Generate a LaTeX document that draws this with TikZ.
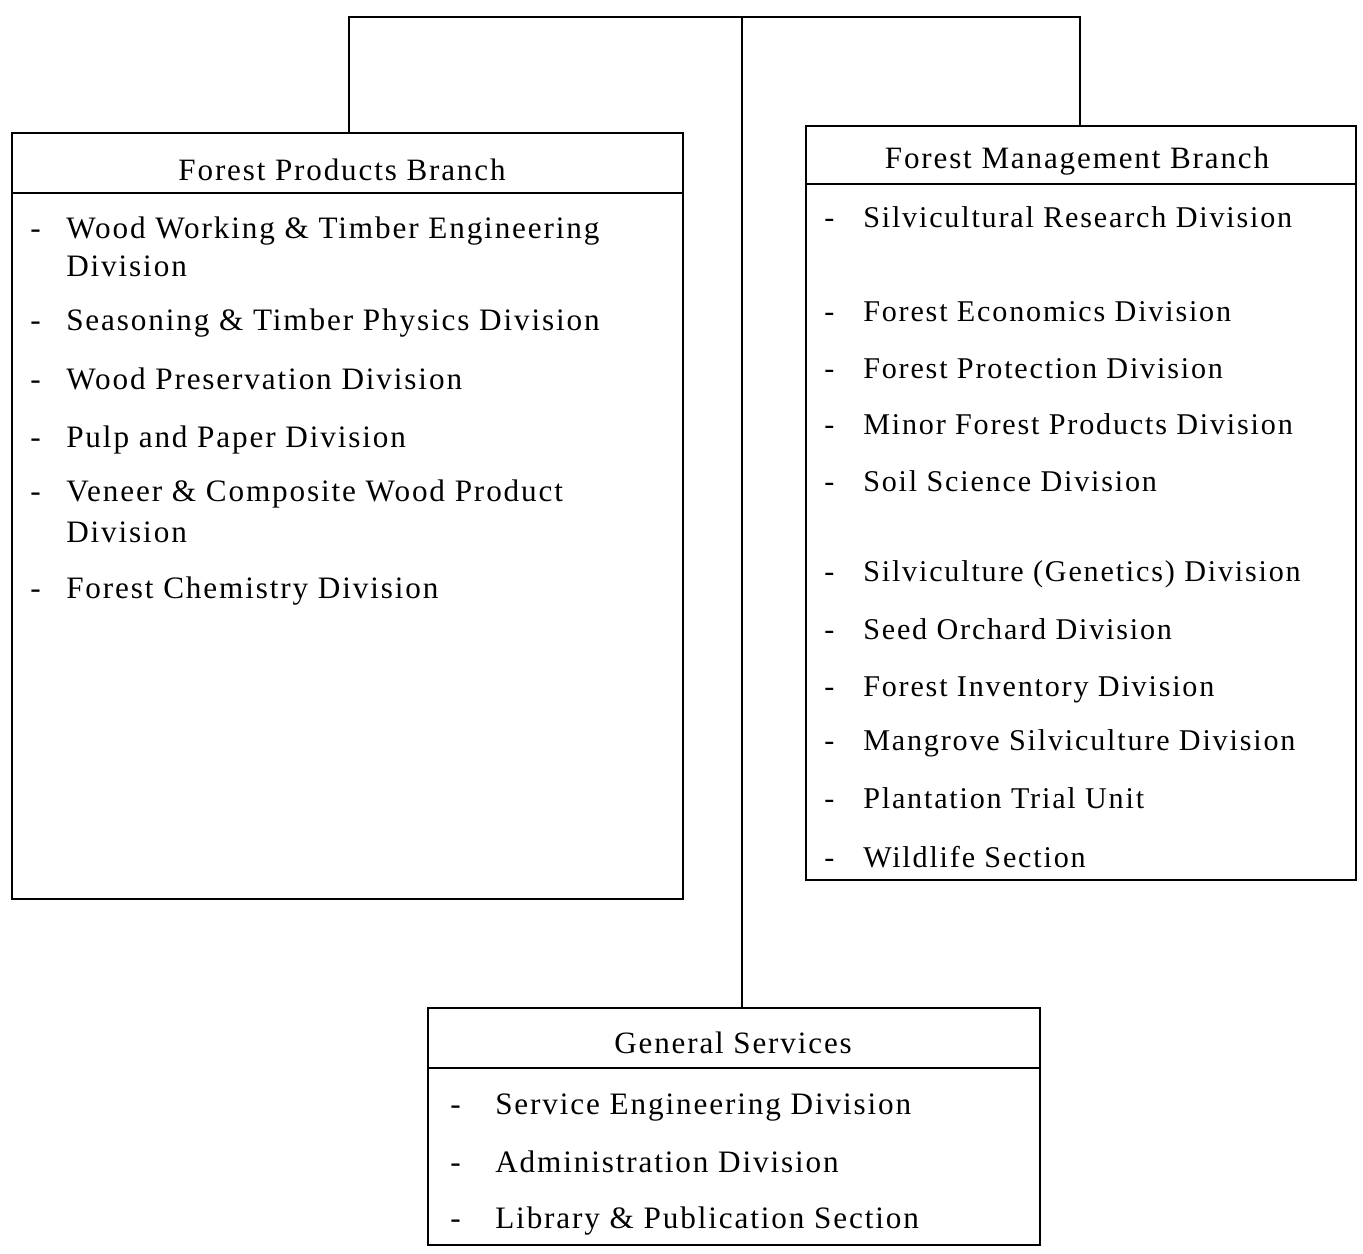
\documentclass[tikz,border=0pt]{standalone}
\usepackage{fontspec}
\setmainfont{Liberation Serif}[LetterSpace=6]
\begin{document}
\begin{tikzpicture}[x=0.75pt,y=-0.75pt,
  box/.style={draw,line width=2pt,rectangle,inner sep=0pt},
  conn/.style={line width=2pt},
  sep/.style={line width=2pt},
  txt/.style={anchor=base west,inner sep=0pt,font=\fontsize{23.4}{28}\selectfont},
  rtxt/.style={txt,font=\fontsize{22.6}{28}\selectfont},
  head/.style={anchor=base,inner sep=0pt,font=\fontsize{23.3}{28}\selectfont}]
\useasboundingbox (0,0) rectangle (1363,1253);
% boxes
\node[box,minimum width=671*0.75pt,minimum height=766*0.75pt] (fpb) at (347.5,516) {};
\node[box,minimum width=550*0.75pt,minimum height=754*0.75pt] (fmb) at (1081,503) {};
\node[box,minimum width=612*0.75pt,minimum height=237*0.75pt] (gs) at (734,1126.5) {};
% header separators
\coordinate (fpbL) at (12,193); \coordinate (fpbR) at (683,193);
\coordinate (fmbL) at (806,184); \coordinate (fmbR) at (1356,184);
\coordinate (gsL) at (428,1068); \coordinate (gsR) at (1040,1068);
\draw[sep] (fpbL) -- (fpbR);
\draw[sep] (fmbL) -- (fmbR);
\draw[sep] (gsL) -- (gsR);
% connectors
\coordinate (topL) at (349,17);
\coordinate (topR) at (1080,17);
\coordinate (trunk) at (742,17);
\draw[conn] (fpb.north -| topL) -- (topL) -- (topR) -- (fmb.north -| topR);
\draw[conn] (trunk) -- (gs.north -| trunk);
% headers
\node[head] (h1) at (342,180) {Forest Products Branch};
\node[head] (h2) at (1077,168) {Forest Management Branch};
\node[head] (h3) at (733,1053) {General Services};
% left items
\foreach \y/\t [count=\i] in {238/{Wood Working \& Timber Engineering},330/{Seasoning \& Timber Physics Division},389/{Wood Preservation Division},447/{Pulp and Paper Division},501/{Veneer \& Composite Wood Product},598/{Forest Chemistry Division}}{
  \node[txt] (ld\i) at (30,\y) {-};
  \node[txt] (lt\i) at (66,\y) {\t};
}
\node[txt] (lc1) at (66,276) {Division};
\node[txt] (lc2) at (66,542) {Division};
% right items
\foreach \y/\t [count=\i] in {227/{Silvicultural Research Division},321/{Forest Economics Division},378/{Forest Protection Division},434/{Minor Forest Products Division},491/{Soil Science Division},581/{Silviculture (Genetics) Division},639/{Seed Orchard Division},696/{Forest Inventory Division},750/{Mangrove Silviculture Division},808/{Plantation Trial Unit},867/{Wildlife Section}}{
  \node[rtxt] (rd\i) at (824,\y) {-};
  \node[rtxt] (rt\i) at (863,\y) {\t};
}
% bottom items
\foreach \y/\t [count=\i] in {1114/{Service Engineering Division},1172/{Administration Division},1228/{Library \& Publication Section}}{
  \node[txt] (bd\i) at (450,\y) {-};
  \node[txt] (bt\i) at (495,\y) {\t};
}
\end{tikzpicture}
\end{document}
